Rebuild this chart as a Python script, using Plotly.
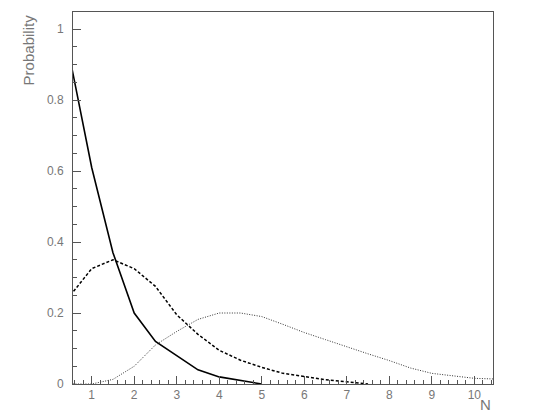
import plotly.graph_objects as go

# bin centres (N) and the three probability curves
n_vals = [0.5, 1.0, 1.5, 2.0, 2.5, 3.0, 3.5, 4.0, 4.5, 5.0, 5.5,
          6.0, 6.5, 7.0, 7.5, 8.0, 8.5, 9.0, 9.5, 10.0, 10.5]
p_solid = [0.91, 0.61, 0.37, 0.20, 0.12, 0.08, 0.04, 0.02, 0.01, 0.0, 0.0,
           0.0, 0.0, 0.0, 0.0, 0.0, 0.0, 0.0, 0.0, 0.0, 0.0]
p_dashed = [0.25, 0.325, 0.35, 0.325, 0.275, 0.195, 0.14, 0.095, 0.067, 0.047, 0.03,
            0.02, 0.012, 0.006, 0.0, 0.0, 0.0, 0.0, 0.0, 0.0, 0.0]
p_dotted = [0.0, 0.0, 0.013, 0.05, 0.11, 0.148, 0.182, 0.2, 0.2, 0.19, 0.168,
            0.145, 0.125, 0.104, 0.085, 0.066, 0.045, 0.03, 0.022, 0.016, 0.014]

# clip trailing zeros so the lines stop where the reference stops
solid_end = 10
dashed_end = 15

grey = "#777777"
font = "Liberation Sans"

fig = go.Figure()
fig.add_trace(go.Scatter(x=n_vals[:solid_end], y=p_solid[:solid_end], mode="lines",
                         line=dict(color="black", width=1.6)))
fig.add_trace(go.Scatter(x=n_vals[:dashed_end], y=p_dashed[:dashed_end], mode="lines",
                         line=dict(color="black", width=1.5, dash="3px,2px")))
fig.add_trace(go.Scatter(x=n_vals, y=p_dotted, mode="lines",
                         line=dict(color="#333333", width=1, dash="1px,1.5px")))

axis_common = dict(
    showgrid=False, zeroline=False,
    showline=True, linecolor="#555555", linewidth=1, mirror=True,
    ticks="inside", tickcolor="#555555", ticklen=8, tickwidth=1,
    tickfont=dict(family=font, size=12, color=grey),
)

fig.update_xaxes(range=[0.56, 10.44], dtick=1, tick0=0,
                 minor=dict(dtick=0.2, ticks="inside", ticklen=4, tickcolor="#555555"),
                 **axis_common)
fig.update_yaxes(range=[0, 1.048], dtick=0.2, tick0=0, ticklabelstandoff=6,
                 minor=dict(dtick=0.05, ticks="inside", ticklen=4, tickcolor="#555555"),
                 **axis_common)

fig.add_annotation(text="Probability", xref="paper", yref="paper", x=-0.105, y=1.0,
                   xanchor="center", yanchor="top", textangle=-90, showarrow=False,
                   font=dict(family=font, size=15, color=grey))
fig.add_annotation(text="N", xref="paper", yref="paper", x=1.0, y=-0.054,
                   xanchor="right", yanchor="middle", showarrow=False,
                   font=dict(family=font, size=15, color=grey))

fig.update_layout(
    width=540, height=415,
    margin=dict(l=73, r=47, t=12, b=31),
    plot_bgcolor="white", paper_bgcolor="white",
    showlegend=False,
)

# drop the default page margin so the figure sits at the window's corner
fig.write_html("out.html", config={"displayModeBar": False},
               post_script="document.body.style.margin='0';document.body.style.overflow='hidden';")
